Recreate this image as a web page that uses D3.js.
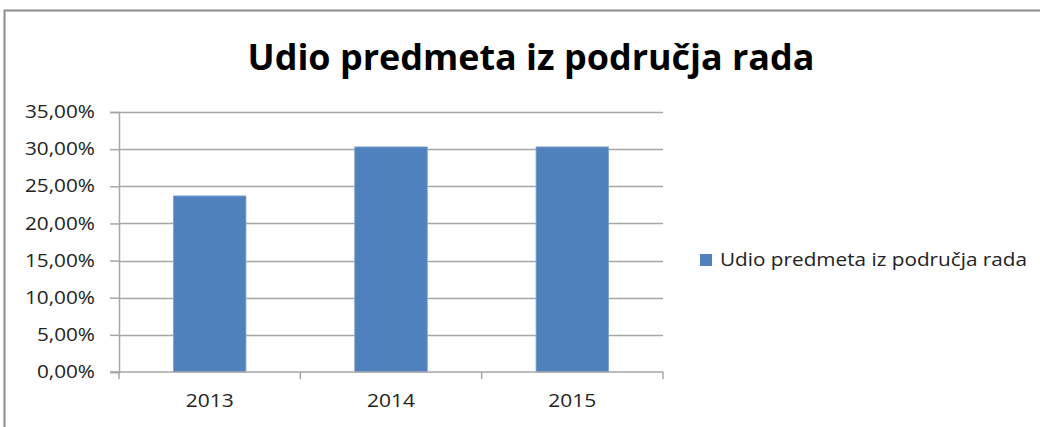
<!DOCTYPE html>
<html lang="hr">
<head>
  <meta charset="UTF-8">
  <title>Udio predmeta iz područja rada</title>
  <script src="https://d3js.org/d3.v7.min.js"></script>
  <style>
    body { margin: 0; background: #fff; }
    text { font-family: "Open Sans", "DejaVu Sans", sans-serif; }
  </style>
</head>
<body>
<div id="chart"></div>
<script>
// data
var years = ["2013", "2014", "2015"];
var shares = [0.237, 0.303, 0.303];
var yTicks = [0, 0.05, 0.10, 0.15, 0.20, 0.25, 0.30, 0.35];
var seriesName = "Udio predmeta iz područja rada";
var title = "Udio predmeta iz područja rada";

var W = 1040, H = 427;
var margin = {top: 112, right: 377, bottom: 55, left: 119},
    width = W - margin.left - margin.right,
    height = H - margin.top - margin.bottom;

var svg = d3.select("#chart").append("svg")
  .attr("width", W)
  .attr("height", H);

// outer frame (only top and left edges visible in the crop)
svg.append("path")
  .attr("d", "M4.5," + H + "V10.5H" + W)
  .attr("fill", "none")
  .attr("stroke", "#8c8c8c")
  .attr("stroke-width", 2);

// title
svg.append("text")
  .attr("x", 531)
  .attr("y", 70)
  .attr("text-anchor", "middle")
  .attr("font-size", 36)
  .attr("font-weight", "bold")
  .attr("textLength", 567)
  .attr("lengthAdjust", "spacingAndGlyphs")
  .attr("fill", "#000")
  .text(title);

var g = svg.append("g")
  .attr("transform", "translate(" + margin.left + "," + margin.top + ")");

var x = d3.scaleBand()
  .domain(years)
  .range([0, width]);

var y = d3.scaleLinear()
  .domain([0, 0.35])
  .range([height, 0]);

var fmt = function(d) { return d3.format(".2f")(d * 100).replace(".", ",") + "%"; };

// gridlines
g.selectAll(".grid")
  .data(yTicks.filter(function(d) { return d > 0; }))
  .enter().append("line")
  .attr("x1", 0)
  .attr("x2", width)
  .attr("y1", function(d) { return Math.round(y(d)) + 0.5; })
  .attr("y2", function(d) { return Math.round(y(d)) + 0.5; })
  .attr("stroke", "#a6a6a6")
  .attr("stroke-width", 1.5);

// y axis
var yAxis = g.append("g")
  .call(d3.axisLeft(y).tickValues(yTicks).tickFormat(fmt).tickSize(9).tickPadding(15));
yAxis.select(".domain").attr("stroke", "#a6a6a6").attr("stroke-width", 1.5);
yAxis.selectAll(".tick line").attr("stroke", "#a6a6a6").attr("stroke-width", 1.5);
var yLabels = yAxis.selectAll(".tick text")
  .attr("font-size", 17.5)
  .attr("fill", "#222");
// stretch labels so the widest one ("35,00%") is about 70px, like Calibri in the original
var widest = d3.max(yLabels.nodes(), function(n) { return n.getComputedTextLength(); });
yLabels.each(function() {
  var len = this.getComputedTextLength();
  d3.select(this)
    .attr("textLength", len * 70 / widest)
    .attr("lengthAdjust", "spacingAndGlyphs");
});

// bars
g.selectAll(".bar")
  .data(shares)
  .enter().append("rect")
  .attr("x", function(d, i) { return x(years[i]) + x.bandwidth() * 0.3; })
  .attr("width", x.bandwidth() * 0.4)
  .attr("y", function(d) { return y(d); })
  .attr("height", function(d) { return height - y(d); })
  .attr("fill", "#4f81bd")
  .attr("stroke", "#7fa3cf")
  .attr("stroke-width", 0.8);

// x axis with ticks on category boundaries
var xAxis = g.append("g")
  .attr("transform", "translate(0," + height + ")");
xAxis.append("line")
  .attr("x1", -9).attr("x2", width)
  .attr("stroke", "#a6a6a6").attr("stroke-width", 1.5);
xAxis.selectAll(".xtick")
  .data(years)
  .enter().append("line")
  .attr("x1", function(d) { return x(d) + x.bandwidth(); })
  .attr("x2", function(d) { return x(d) + x.bandwidth(); })
  .attr("y1", 0).attr("y2", 7)
  .attr("stroke", "#a6a6a6").attr("stroke-width", 1.5);
xAxis.append("line")
  .attr("x1", 0).attr("x2", 0).attr("y1", 0).attr("y2", 7)
  .attr("stroke", "#a6a6a6").attr("stroke-width", 1.5);
xAxis.selectAll(".xlabel")
  .data(years)
  .enter().append("text")
  .attr("x", function(d) { return x(d) + x.bandwidth() / 2; })
  .attr("y", 35)
  .attr("text-anchor", "middle")
  .attr("font-size", 18)
  .attr("fill", "#222")
  .attr("textLength", 48)
  .attr("lengthAdjust", "spacingAndGlyphs")
  .text(function(d) { return d; });

// legend
var legend = svg.append("g").attr("transform", "translate(700,254)");
legend.append("rect")
  .attr("width", 12).attr("height", 12)
  .attr("fill", "#4f81bd");
legend.append("text")
  .attr("x", 20)
  .attr("y", 12)
  .attr("font-size", 18)
  .attr("fill", "#222")
  .attr("textLength", 307)
  .attr("lengthAdjust", "spacingAndGlyphs")
  .text(seriesName);
</script>
</body>
</html>
